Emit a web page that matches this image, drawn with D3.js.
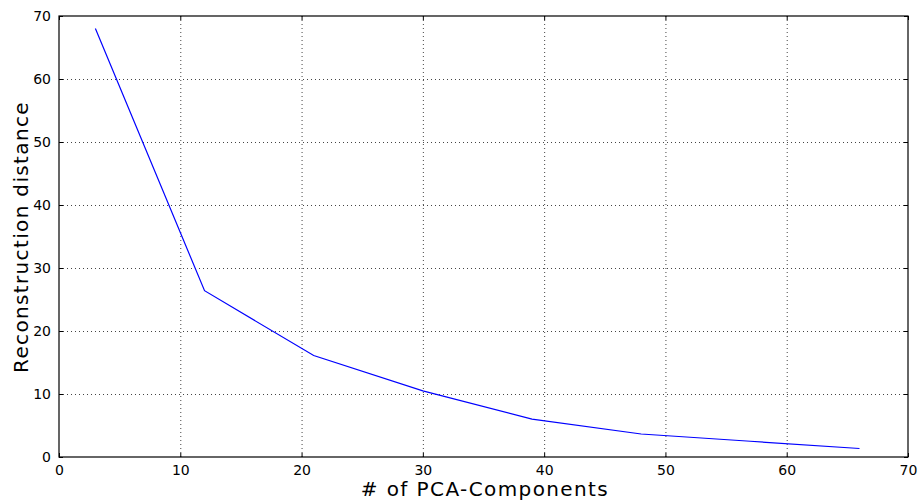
<!DOCTYPE html>
<html>
<head>
<meta charset="utf-8">
<script src="https://cdn.jsdelivr.net/npm/d3@7"></script>
<style>
  html, body { margin: 0; padding: 0; background: #fff; }
  svg { display: block; font-family: "DejaVu Sans", sans-serif; }
</style>
</head>
<body>
<svg id="chart" width="921" height="501"></svg>
<script>
// Number of PCA components and the matching reconstruction distance
const components = [3, 12, 21, 30, 39, 48, 57, 66];
const distance = [68, 26.4, 16.1, 10.5, 6.0, 3.65, 2.5, 1.35];
const xTicks = [0, 10, 20, 30, 40, 50, 60, 70];
const yTicks = [0, 10, 20, 30, 40, 50, 60, 70];

const svg = d3.select("#chart");
const margin = { left: 59, right: 13, top: 16, bottom: 44 };
const W = 921, H = 501;
const iw = W - margin.left - margin.right;
const ih = H - margin.top - margin.bottom;

const x = d3.scaleLinear().domain([0, 70]).range([margin.left, margin.left + iw]);
const y = d3.scaleLinear().domain([0, 70]).range([margin.top + ih, margin.top]);

const g = svg.append("g");

// dotted grid
g.append("g").selectAll("line").data(xTicks.slice(1, -1)).join("line")
  .attr("x1", d => x(d) + 0.5).attr("x2", d => x(d) + 0.5)
  .attr("y1", y(70)).attr("y2", y(0))
  .attr("stroke", "#444").attr("stroke-width", 1).attr("stroke-dasharray", "1,3");
g.append("g").selectAll("line").data(yTicks.slice(1, -1)).join("line")
  .attr("y1", d => Math.round(y(d)) + 0.5).attr("y2", d => Math.round(y(d)) + 0.5)
  .attr("x1", x(0)).attr("x2", x(70))
  .attr("stroke", "#444").attr("stroke-width", 1).attr("stroke-dasharray", "1,3");

// data line
const line = d3.line().x((d, i) => x(components[i])).y(d => y(d));
g.append("path").datum(distance)
  .attr("d", line)
  .attr("fill", "none").attr("stroke", "#0000ff").attr("stroke-width", 1.2);

// axes with inward ticks on every side
const tickLen = 4;
const axBottom = d3.axisBottom(x).tickValues(xTicks).tickSize(-tickLen).tickPadding(8).tickFormat(d3.format("d"));
const axTop = d3.axisTop(x).tickValues(xTicks).tickSize(-tickLen).tickFormat("");
const axLeft = d3.axisLeft(y).tickValues(yTicks).tickSize(-tickLen).tickPadding(8).tickFormat(d3.format("d"));
const axRight = d3.axisRight(y).tickValues(yTicks).tickSize(-tickLen).tickFormat("");

function styleAxis(sel) {
  sel.select(".domain").remove();
  sel.selectAll("line").attr("stroke", "#000");
  sel.selectAll("text").attr("font-size", 14).attr("fill", "#000").attr("font-family", "DejaVu Sans");
}
g.append("g").attr("transform", `translate(0,${y(0)})`).call(axBottom).call(styleAxis);
g.append("g").attr("transform", `translate(0,${y(70)})`).call(axTop).call(styleAxis);
g.append("g").attr("transform", `translate(${x(0)},0)`).call(axLeft).call(styleAxis);
g.append("g").attr("transform", `translate(${x(70)},0)`).call(axRight).call(styleAxis);

// frame
g.append("rect")
  .attr("x", x(0)).attr("y", y(70))
  .attr("width", x(70) - x(0)).attr("height", y(0) - y(70))
  .attr("fill", "none").attr("stroke", "#000").attr("stroke-width", 1.2);

// axis titles
svg.append("text")
  .attr("x", (x(0) + x(70)) / 2 + 1.5).attr("y", 496)
  .attr("text-anchor", "middle").attr("font-size", 20).attr("letter-spacing", 1.4)
  .text("# of PCA-Components");
svg.append("text")
  .attr("transform", `translate(27.5,${(y(0) + y(70)) / 2 + 0.5}) rotate(-90)`)
  .attr("text-anchor", "middle").attr("font-size", 20).attr("letter-spacing", 1.35)
  .text("Reconstruction distance");
</script>
</body>
</html>
